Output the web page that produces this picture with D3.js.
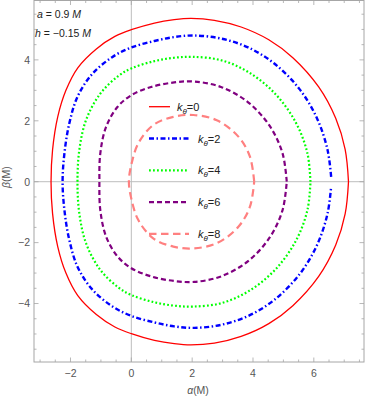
<!DOCTYPE html>
<html>
<head>
<meta charset="utf-8">
<script src="https://cdnjs.cloudflare.com/ajax/libs/d3/7.8.5/d3.min.js"></script>
<style>
  body { margin: 0; background: #fff; }
  svg { display: block; font-family: "Liberation Sans", Arial, sans-serif; }
</style>
</head>
<body>
<div id="chart"></div>
<script>
// upper halves of the shadow curves (alpha, beta), right -> left
const shadowK0 = [[7.14,0],[7.03,1.06],[6.72,2.08],[6.16,3.11],[5.31,4.07],[4.52,4.66],[3.61,5.08],[2.73,5.30],[1.96,5.36],[1.41,5.32],[0.76,5.21],[0,4.99],[-0.54,4.77],[-1.15,4.36],[-1.76,3.74],[-2.15,3.0],[-2.42,2.13],[-2.59,1.04],[-2.64,0]];
const shadowK2 = [[6.57,0.16],[6.45,1.05],[6.11,2.07],[5.53,3.04],[4.70,3.88],[3.84,4.41],[2.95,4.70],[2.07,4.80],[1.41,4.75],[0.76,4.62],[0.01,4.41],[-0.63,4.09],[-1.30,3.52],[-1.77,2.79],[-2.04,1.91],[-2.20,0.93],[-2.26,0]];
const shadowK4 = [[5.89,0],[5.79,0.93],[5.41,1.94],[4.71,2.91],[3.83,3.61],[2.95,3.99],[2.02,4.10],[1.41,4.07],[0.76,3.96],[0,3.72],[-0.43,3.47],[-1.03,2.88],[-1.49,2.02],[-1.71,1.04],[-1.77,0]];
const shadowK6 = [[5.11,0],[4.97,0.94],[4.55,1.83],[3.85,2.60],[2.95,3.11],[2.07,3.29],[1.41,3.26],[0.65,3.11],[0,2.84],[-0.45,2.46],[-0.83,1.80],[-1.02,0.93],[-1.05,0]];
const shadowK8 = [[4.04,0],[3.90,0.82],[3.52,1.48],[2.81,2.02],[2.04,2.19],[1.38,2.13],[0.72,1.86],[0.23,1.26],[0.01,0.60],[-0.08,0]];

const legendLabels = ["0", "2", "4", "6", "8"];
const xTicks = [-2, 0, 2, 4, 6];
const yTicks = [-4, -2, 0, 2, 4];

const W = 366, H = 397;
const pLeft = 34, pRight = 364, pTop = 0.5, pBottom = 362;

const x = d3.scaleLinear().domain([-3.2, 7.65]).range([pLeft, pRight]);
const y = d3.scaleLinear().domain([-5.92, 5.95]).range([pBottom, pTop]);

const svg = d3.select("#chart").append("svg")
  .attr("width", W)
  .attr("height", H);

// axes through origin
svg.append("line")
  .attr("x1", x(0)).attr("x2", x(0))
  .attr("y1", pTop).attr("y2", pBottom)
  .style("stroke", "#bdbdbd").style("stroke-width", 1);
svg.append("line")
  .attr("x1", pLeft).attr("x2", pRight)
  .attr("y1", y(0)).attr("y2", y(0))
  .style("stroke", "#bdbdbd").style("stroke-width", 1);

// frame
svg.append("rect")
  .attr("x", pLeft).attr("y", pTop)
  .attr("width", pRight - pLeft).attr("height", pBottom - pTop)
  .style("fill", "none")
  .style("stroke", "#a6a6a6")
  .style("stroke-width", 1);

// ticks (inward, on all four sides)
const xMinor = d3.range(-3, 7.6, 0.5);
const yMinor = d3.range(-5.5, 5.9, 0.5);
const tickG = svg.append("g").style("stroke", "#a6a6a6").style("stroke-width", 0.8);
xMinor.forEach(function (v) {
  const len = (v % 2 === 0) ? 4.5 : 2.5;
  tickG.append("line").attr("x1", x(v)).attr("x2", x(v)).attr("y1", pBottom).attr("y2", pBottom - len);
  tickG.append("line").attr("x1", x(v)).attr("x2", x(v)).attr("y1", pTop).attr("y2", pTop + len);
});
yMinor.forEach(function (v) {
  const len = (v % 2 === 0) ? 4.5 : 2.5;
  tickG.append("line").attr("x1", pLeft).attr("x2", pLeft + len).attr("y1", y(v)).attr("y2", y(v));
  tickG.append("line").attr("x1", pRight).attr("x2", pRight - len).attr("y1", y(v)).attr("y2", y(v));
});

// tick labels
svg.selectAll("text.xt")
  .data(xTicks)
  .enter().append("text")
  .attr("class", "xt")
  .attr("x", function (d) { return x(d); })
  .attr("y", 376.5)
  .attr("text-anchor", "middle")
  .style("font-size", "10.5px")
  .style("fill", "#555")
  .text(function (d) { return d < 0 ? "\u2212" + Math.abs(d) : d; });

svg.selectAll("text.yt")
  .data(yTicks)
  .enter().append("text")
  .attr("class", "yt")
  .attr("x", 30)
  .attr("y", function (d) { return y(d) + 3.8; })
  .attr("text-anchor", "end")
  .style("font-size", "10.5px")
  .style("fill", "#555")
  .text(function (d) { return d < 0 ? "\u2212" + Math.abs(d) : d; });

// axis labels
const xl = svg.append("text")
  .attr("x", 198).attr("y", 394)
  .attr("text-anchor", "middle")
  .style("font-size", "10.5px")
  .style("fill", "#555");
xl.append("tspan").style("font-style", "italic").text("\u03b1");
xl.append("tspan").text("(M)");

const yl = svg.append("text")
  .attr("transform", "translate(10,177) rotate(-90)")
  .attr("text-anchor", "middle")
  .style("font-size", "10.5px")
  .style("fill", "#555");
yl.append("tspan").style("font-style", "italic").text("\u03b2");
yl.append("tspan").text("(M)");

// parameter notes
const t1 = svg.append("text").attr("x", 37).attr("y", 18).style("font-size", "10.5px").style("fill", "#222");
t1.append("tspan").style("font-style", "italic").text("a");
t1.append("tspan").text(" = 0.9 ");
t1.append("tspan").style("font-style", "italic").text("M");
const t2 = svg.append("text").attr("x", 35).attr("y", 37).style("font-size", "10.5px").style("fill", "#222");
t2.append("tspan").style("font-style", "italic").text("h");
t2.append("tspan").text(" = \u22120.15 ");
t2.append("tspan").style("font-style", "italic").text("M");

// curves
const series = [
  { pts: shadowK0, color: "#ff0000", width: 1.3, dash: null },
  { pts: shadowK2, color: "#0000ff", width: 2.4, dash: "5,2.5,1.5,2.5" },
  { pts: shadowK4, color: "#00ff00", width: 2.2, dash: "1.8,2.2" },
  { pts: shadowK6, color: "#800080", width: 2.2, dash: "5,3" },
  { pts: shadowK8, color: "#ff8080", width: 2.2, dash: "7.5,4.5" }
];

const line = d3.line()
  .x(function (d) { return x(d[0]); })
  .y(function (d) { return y(d[1]); })
  .curve(d3.curveCatmullRom.alpha(0.5));

series.forEach(function (s) {
  // mirror upper half into lower half (the shadow is symmetric about beta = 0)
  const lower = s.pts.slice().reverse().slice(1).map(function (p) { return [p[0], -p[1]]; });
  const full = s.pts.concat(lower);
  svg.append("path")
    .datum(full)
    .attr("d", line)
    .style("fill", "none")
    .style("stroke", s.color)
    .style("stroke-width", s.width)
    .style("stroke-dasharray", s.dash);
});

// legend
const legendY0 = 106.7, legendStep = 31.8;
legendLabels.forEach(function (lab, i) {
  const s = series[i];
  const ly = legendY0 + i * legendStep;
  const x2 = i === 0 ? 170 : 189;
  const tx = i === 0 ? 177 : 198;
  svg.append("line")
    .attr("x1", 149).attr("x2", x2)
    .attr("y1", ly).attr("y2", ly)
    .style("stroke", s.color)
    .style("stroke-width", s.width)
    .style("stroke-dasharray", s.dash);
  const t = svg.append("text")
    .attr("x", tx).attr("y", ly + 4)
    .style("font-size", "11px")
    .style("fill", "#222");
  t.append("tspan").style("font-style", "italic").text("k");
  t.append("tspan").attr("dy", 3).style("font-size", "8px").style("font-style", "italic").text("\u03b8");
  t.append("tspan").attr("dy", -3).text("=" + lab);
});
</script>
</body>
</html>
